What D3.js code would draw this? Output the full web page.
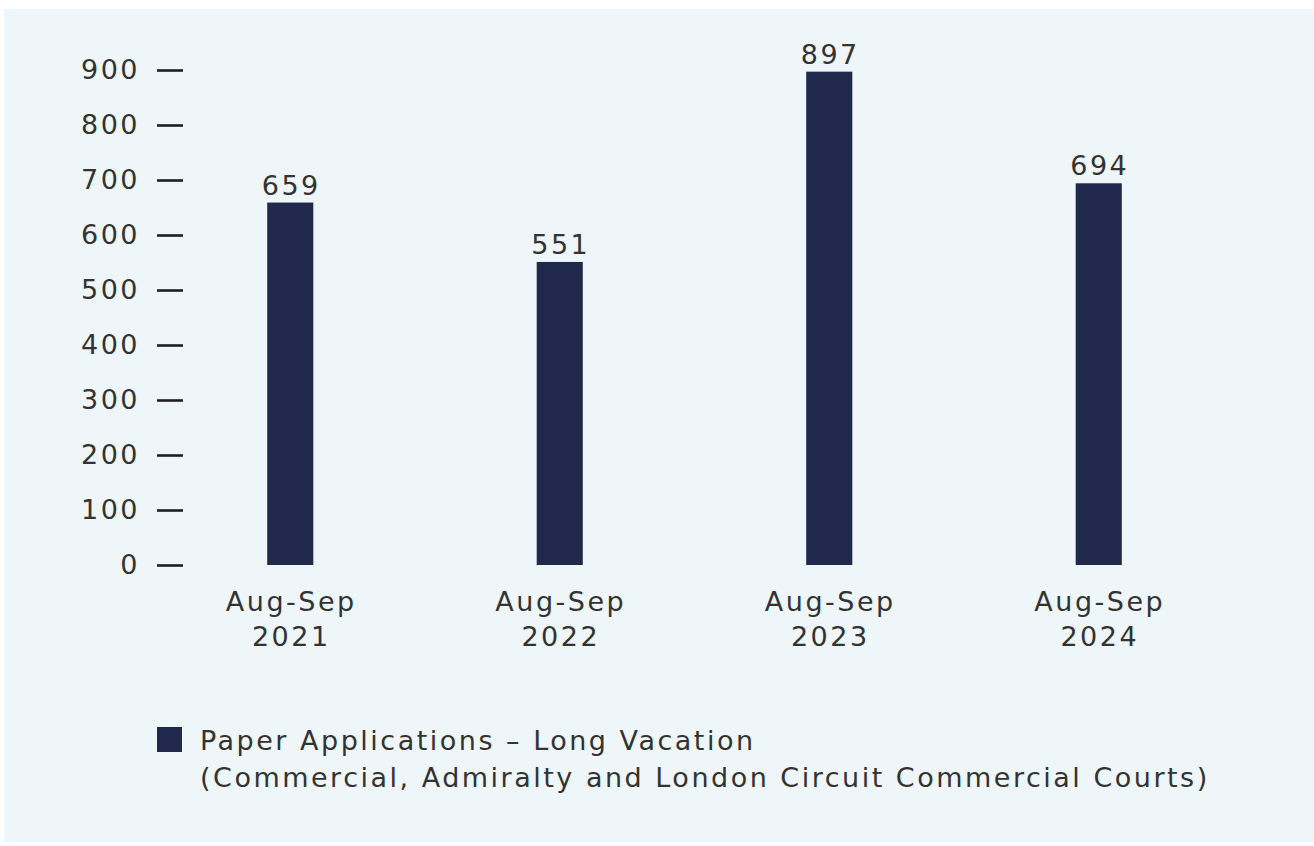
<!DOCTYPE html>
<html>
<head>
<meta charset="utf-8">
<script src="https://cdn.jsdelivr.net/npm/d3@7"></script>
<style>
  html, body { margin: 0; padding: 0; background: #ffffff; }
  svg { display: block; }
  text { font-family: "DejaVu Sans", "Open Sans", sans-serif; fill: #333333; letter-spacing: 2.5px; }
</style>
</head>
<body>
<svg id="chart" width="1314" height="846"></svg>
<script>
// Long vacation paper applications by period
const categories = ["Aug-Sep 2021", "Aug-Sep 2022", "Aug-Sep 2023", "Aug-Sep 2024"];
const values = [659, 551, 897, 694];
const yTicks = [0, 100, 200, 300, 400, 500, 600, 700, 800, 900];
const seriesName = "Paper Applications \u2013 Long Vacation";
const seriesNote = "(Commercial, Admiralty and London Circuit Commercial Courts)";

const W = 1314, H = 846;
const FS = 27;
const barColor = "#20284b";
const svg = d3.select("#chart");

// panel background
svg.append("rect")
  .attr("x", 4).attr("y", 9)
  .attr("width", W - 4).attr("height", H - 13)
  .attr("fill", "#eef6f9");

const x = d3.scaleBand().domain(categories).range([155.5, 1233.5]).padding(0);
const y = d3.scaleLinear().domain([0, 900]).range([565, 70]);

// y axis: ticks drawn as short dashes to the right of the labels
const yAxis = svg.append("g").attr("transform", "translate(183,0)")
  .call(d3.axisLeft(y).tickValues(yTicks).tickSize(26).tickPadding(17).tickFormat(d3.format("d")));
yAxis.select(".domain").remove();
yAxis.selectAll(".tick line").attr("stroke", "#1e1e1e").attr("stroke-width", 2.6);
yAxis.selectAll(".tick text")
  .attr("font-size", FS).attr("fill", "#333333")
  .style("font-family", "'DejaVu Sans', sans-serif");

const barW = x.bandwidth() * 0.171;

// bars
svg.append("g").selectAll("rect").data(values).join("rect")
  .attr("x", (d, i) => x(categories[i]) + x.bandwidth() / 2 - barW / 2)
  .attr("y", d => y(d))
  .attr("width", barW)
  .attr("height", d => y(0) - y(d))
  .attr("fill", barColor);

// value labels
svg.append("g").selectAll("text").data(values).join("text")
  .attr("x", (d, i) => x(categories[i]) + x.bandwidth() / 2 + 1)
  .attr("y", d => y(d) - 8)
  .attr("text-anchor", "middle")
  .attr("font-size", FS)
  .text(d => d);

// category labels on two lines
const cat = svg.append("g").selectAll("text").data(categories).join("text")
  .attr("x", d => x(d) + x.bandwidth() / 2)
  .attr("y", 611)
  .attr("text-anchor", "middle")
  .attr("font-size", FS);
cat.each(function (d) {
  const parts = d.split(" ");
  const t = d3.select(this);
  const cx = x(d) + x.bandwidth() / 2 + 1;
  t.append("tspan").attr("x", cx).attr("dy", 0).text(parts[0]);
  t.append("tspan").attr("x", cx).attr("dy", 35).text(parts[1]);
});

// legend
const lg = svg.append("g");
lg.append("rect").attr("x", 157).attr("y", 727).attr("width", 25).attr("height", 25).attr("fill", barColor);
lg.append("text").attr("x", 200).attr("y", 750).attr("font-size", FS).text(seriesName);
lg.append("text").attr("x", 200).attr("y", 787).attr("font-size", FS).text(seriesNote);
</script>
</body>
</html>
